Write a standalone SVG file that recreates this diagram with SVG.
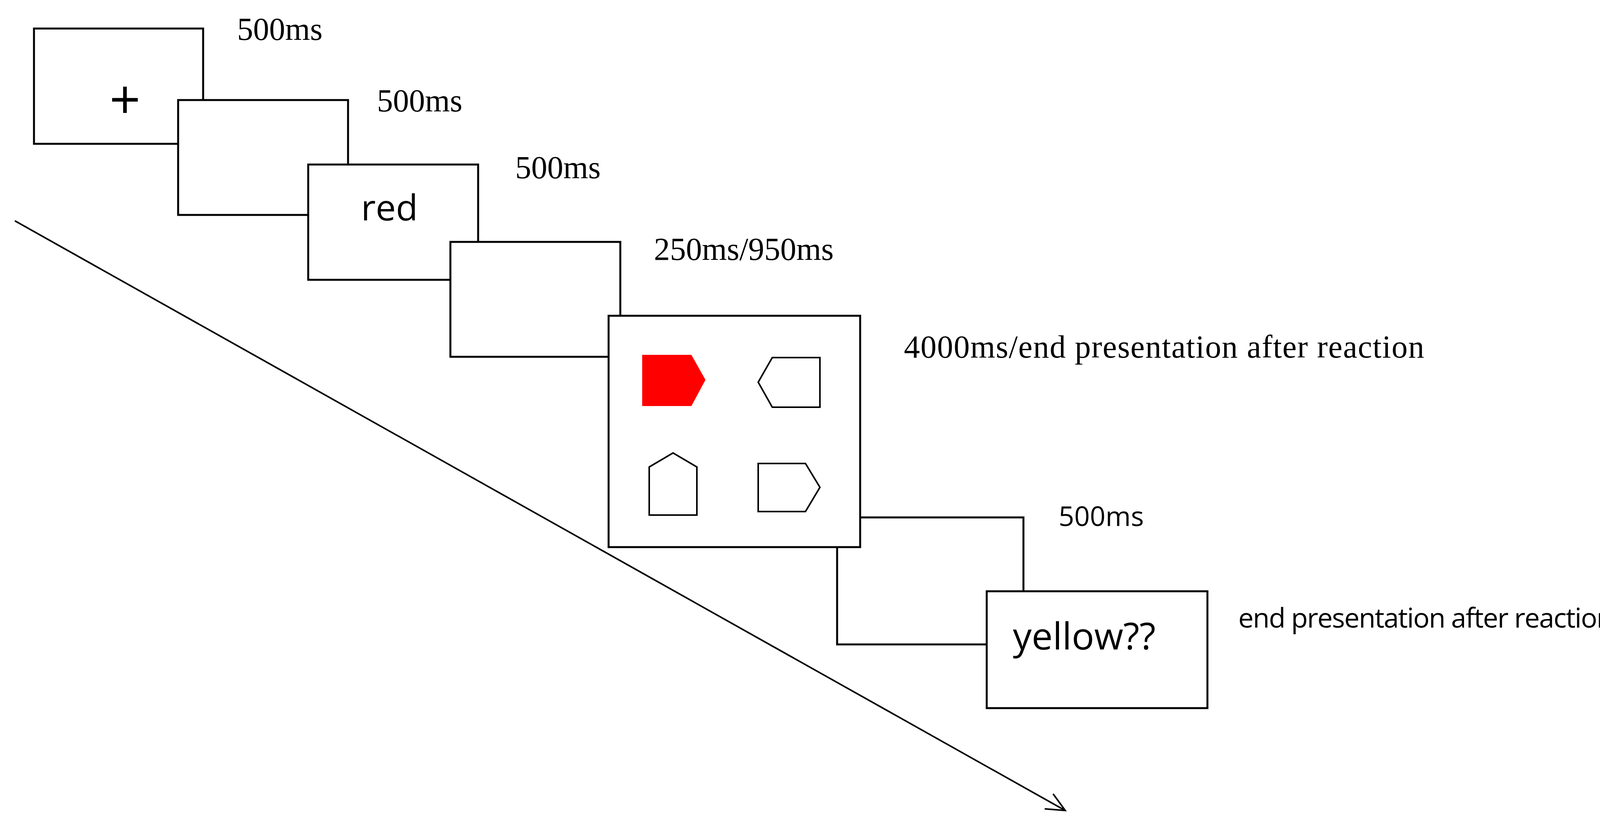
<svg xmlns="http://www.w3.org/2000/svg" width="4290" height="2129" viewBox="0 0 4290 2129">
<style>
.b{fill:#fff;stroke:#000;stroke-width:5}
.s{fill:#fff;stroke:#000;stroke-width:4}
.t{font-family:"Liberation Serif",serif;font-size:82px;fill:#000}
.n{font-family:"Open Sans","Liberation Sans",sans-serif;font-size:84px;fill:#000}
</style>
<defs><marker id="ah" markerWidth="60" markerHeight="60" refX="50" refY="30" orient="auto" markerUnits="userSpaceOnUse"><path d="M2,8 L50,30 L2,52" fill="none" stroke="#000" stroke-width="4"/></marker></defs>
<g id="connectors"><line x1="38" y1="565" x2="2727" y2="2074" stroke="#000" stroke-width="4" marker-end="url(#ah)"/></g>
<g id="frame1"><rect class="b" x="87" y="73" width="433" height="295"/><text class="n" x="320" y="305" text-anchor="middle" style="font-size:140px">+</text></g>
<g id="frame2"><rect class="b" x="456" y="256" width="435" height="294"/></g>
<g id="frame3"><rect class="b" x="789" y="421" width="435" height="295"/><text class="n" x="997" y="564" text-anchor="middle" style="font-size:92px">red</text></g>
<g id="frame4"><rect class="b" x="1153" y="619" width="435" height="294"/></g>
<g id="frame6"><rect class="b" x="2143" y="1324" width="477" height="325"/></g>
<g id="frame5"><rect class="b" x="1558" y="808" width="644" height="592"/>
<polygon points="1644,908 1770,908 1806,972 1770,1039 1644,1039" fill="#f00"/>
<polygon class="s" points="2099,915 1977,915 1941,978 1977,1042 2099,1042"/>
<polygon class="s" points="1662,1318 1662,1195 1723,1159 1784,1195 1784,1318"/>
<polygon class="s" points="1941,1186 2062,1186 2099,1247 2062,1309 1941,1309"/></g>
<g id="frame7"><rect class="b" x="2526" y="1513" width="565" height="299"/><text class="n" x="2593" y="1662" style="font-size:96px">yellow??</text></g>
<g id="labels">
<text class="t" x="607" y="102">500ms</text>
<text class="t" x="965" y="285">500ms</text>
<text class="t" x="1319" y="456">500ms</text>
<text class="t" x="1674" y="665">250ms/950ms</text>
<text class="t" x="2314" y="915" textLength="1332">4000ms/end presentation after reaction</text>
<text class="n" x="2710" y="1346" style="font-size:70px">500ms</text>
<text class="n" x="3170" y="1606" style="font-size:70px" textLength="960">end presentation after reaction</text>
</g>
</svg>
